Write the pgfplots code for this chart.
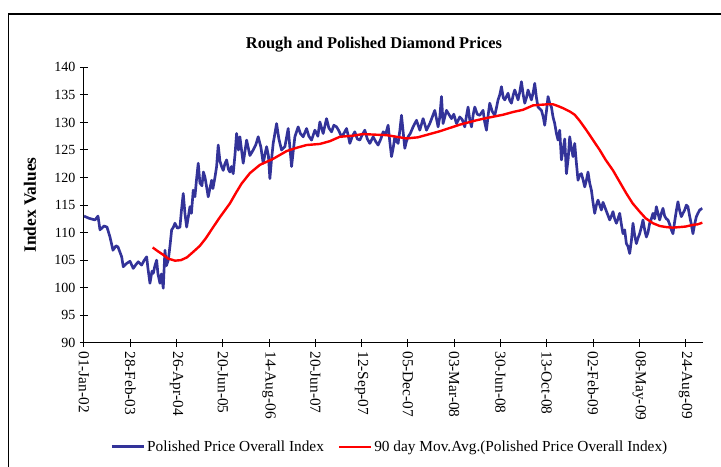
\documentclass[border=0pt]{standalone}
\usepackage{fontspec}
\setmainfont{Liberation Serif}
\usepackage{pgfplots}
\usepackage{pgfplotstable}
\pgfplotsset{compat=1.18}
\definecolor{idxblue}{RGB}{51,51,153}

\pgfplotstableread{
pos v
84 113.0
89 112.6
95 112.3
98 113.0
100 110.5
104 111.2
107 111.0
110 109.2
113 106.8
116 107.6
118 107.4
121.7 105.6
123.3 103.8
126.7 104.4
130 104.8
133.3 103.5
136 104.2
138.3 104.7
141.7 104.1
144 104.9
146.7 105.6
148 103.5
150 100.8
152 103.0
153.3 102.6
155 104.0
156.7 105.0
158 102.5
160 100.8
161.5 102.5
163.3 99.9
165 106.8
166.5 104.0
168.3 105.0
170 107.5
171.7 110.5
173.5 111.0
175 111.7
177.5 110.8
180 111.0
181.5 114.0
183.3 117.1
185 113.5
186.7 111.0
188.5 113.0
190 114.7
191.5 113.5
193.3 117.7
195 116.5
196.5 119.5
198.3 122.6
200 119.0
202 118.5
203.5 121.0
205 120.1
206.5 118.5
208.3 116.5
210 118.0
211.7 119.5
213 118.0
215 120.0
216.7 122.0
218.3 125.9
220 123.0
221.7 122.0
223.3 121.3
225 122.5
226.7 123.2
228.5 121.5
230 121.0
231.5 122.0
233.3 120.7
235 124.0
236.7 128.0
238.5 125.0
240 127.4
243.3 122.6
246.7 126.8
250 124.0
253.3 125.0
256 126.0
258.3 127.4
261 125.5
263.3 122.6
266.7 125.6
268.5 124.0
270 119.8
271.5 123.0
273.3 126.2
276.7 129.8
279 127.0
281.7 125.0
285 125.6
288.3 128.9
290 125.5
291.7 122.0
293.5 125.0
295 127.4
298.3 129.2
300.5 128.0
303.3 127.4
306.7 128.9
309 127.5
311.7 126.8
315 128.6
318 127.5
320 130.1
323.3 128.0
326.7 130.7
329 129.0
331.7 128.3
334 129.5
336.7 129.2
339 128.5
341.7 127.4
344 128.0
346.7 128.9
348.5 127.5
350 126.2
352.5 127.5
355 128.3
357.5 127.0
360 126.8
362.5 127.8
365 128.6
367.5 127.0
370 126.2
373.3 127.4
376 126.5
378.3 125.9
381 127.0
383.3 128.3
386 128.0
388.3 129.5
390 126.5
391.7 123.8
393.5 125.5
395 127.4
397 126.5
398.3 126.2
400 128.5
401.7 131.3
403.5 128.0
405 125.3
406.5 126.5
408.3 127.4
410.5 128.0
413.3 129.2
416.7 130.4
420 128.6
423.3 130.7
426.7 128.6
430 129.8
432.5 131.0
435 132.2
438.3 129.2
440 131.0
441.7 134.7
443.3 129.8
446.7 132.2
449 131.5
451.7 130.7
454 131.5
456.7 129.8
460 131.0
462.5 130.5
465 129.2
466.5 131.0
468.3 132.8
470 130.5
471.7 129.2
473.5 131.5
475 132.8
477.5 131.5
480 131.3
483.3 132.2
485 130.0
486.7 128.6
488.5 131.5
490 133.5
492.5 132.0
495 131.3
496.5 132.5
498.3 134.1
500 135.0
501.7 136.5
503.5 134.5
505 134.1
508.3 135.3
510 134.0
511.7 133.5
513.5 135.0
515 135.9
518.3 134.1
520 135.5
521.7 137.4
523.5 135.0
525 133.5
526.7 134.5
528.3 135.9
531.7 134.1
533.5 135.5
535 137.1
536.7 134.5
538.3 132.8
541.7 132.2
543.5 131.0
545 129.5
546.7 132.0
548.3 134.7
550 133.5
551.7 132.8
553.3 131.0
555 129.8
556.7 128.0
558.3 126.8
560 128.6
561.7 123.2
563.3 125.0
565 127.0
566.7 120.7
568.5 123.5
570 127.4
571.5 125.5
573.3 123.8
575 126.2
576.5 123.0
578.3 119.5
580 120.5
581.7 120.7
583.5 119.5
585 118.3
586.7 119.5
588.3 121.0
590 119.0
591.7 117.7
593.3 115.5
595 113.5
596.7 115.0
598.3 115.9
600 115.0
601.7 114.1
603.3 115.5
605 114.7
607.5 113.5
610 112.3
611.7 113.0
613.3 113.8
615 112.5
616.7 111.7
618.3 112.5
620 113.5
621.7 111.5
623.3 109.8
625 110.5
626.7 108.0
628.3 107.5
630 106.2
631.7 108.5
633.3 111.7
635 109.5
636.7 108.0
638.3 109.0
640 109.8
641.7 111.0
643.3 112.3
645 110.5
646.7 109.2
648.3 110.0
650 111.7
651.7 112.5
653.3 113.5
655 112.5
656.7 114.7
658.3 113.5
660 112.3
661.7 113.5
663.3 114.4
665 113.0
666.7 112.5
668.3 112.3
670 111.5
671.7 110.5
673.3 109.8
675 112.0
676.7 114.0
678.3 115.6
680 114.0
681.7 112.9
683.3 113.5
685 114.1
686.7 115.0
688.3 114.7
690 113.0
691.7 111.5
693.3 109.8
695 111.5
696.7 112.9
698.3 113.5
700 114.1
702.7 114.4
}\polished

\pgfplotstableread{
pos v
152.7 107.3
158 106.6
163 106.0
168 105.3
175 104.9
181 105.0
187 105.5
193.3 106.5
200 107.6
206 109.0
213.3 111.0
220 112.8
230 115.3
236 117.2
241.7 118.9
250 120.8
260 122.3
273.3 123.4
286.7 124.8
296.7 125.4
306.7 125.9
320 126.1
330 126.6
340 127.4
353.3 127.6
363.3 127.9
373.3 127.8
386.7 127.7
396.7 127.4
406.7 127.1
418 127.3
430 127.9
440 128.4
450 129.0
460 129.6
476.7 130.4
486.7 130.8
503.3 131.4
513.3 131.9
523.3 132.3
533.3 133.1
540 133.2
548 133.3
553.3 133.3
558 133.0
563.3 132.6
570 132.0
575 131.4
580 130.3
586.7 128.6
593 126.9
600 125.0
606 123.2
613.3 121.3
620 119.2
626.7 117.1
633 115.3
640 113.8
646 112.6
653.3 111.7
660 111.2
666.7 111.0
673 110.9
680 111.0
686 111.1
693.3 111.4
698 111.5
702.7 111.8
}\movavg

\begin{document}
\begin{tikzpicture}
\useasboundingbox (0,0) rectangle (540.75pt,350.25pt);
\draw[black, line width=1pt] (6.5pt,0) -- (6.5pt,339.75pt) -- (540.75pt,339.75pt);
\node[font=\bfseries\fontsize{12.3}{14}\selectfont] at (280.5pt,316.5pt) {Rough and Polished Diamond Prices};
\begin{axis}[
  scale only axis,
  width=464pt, height=206.5pt,
  at={(63pt,93.2pt)}, anchor=south west,
  xmin=0, xmax=13.37, ymin=90, ymax=140,
  ytick={90,95,...,140},
  xtick={0,...,13},
  xticklabels={01-Jan-02,28-Feb-03,26-Apr-04,20-Jun-05,14-Aug-06,20-Jun-07,12-Sep-07,05-Dec-07,03-Mar-08,30-Jun-08,13-Oct-08,02-Feb-09,08-May-09,24-Aug-09},
  axis x line*=bottom, axis y line*=left,
  axis line style={black, line width=0.75pt},
  tick align=center, major tick length=6pt,
  tick style={black, line width=0.75pt},
  /pgf/number format/assume math mode=true,
  yticklabel style={font=\fontsize{10.5}{12}\selectfont},
  xticklabel style={font=\fontsize{11.5}{13}\selectfont, rotate=-90, anchor=west},
  ylabel={Index Values},
  ylabel style={font=\bfseries\fontsize{13}{15}\selectfont, at={(axis description cs:-0.0873,0.5)}, anchor=center},
  legend columns=2,
  legend style={draw=none, fill=none, font=\fontsize{11.5}{13}\selectfont,
    at={(axis description cs:0.036,-0.378)}, anchor=west,
    nodes={inner sep=1.5pt},
    /tikz/every even column/.append style={column sep=9pt}},
  legend image code/.code={\draw[#1] (0pt,0pt) -- (24pt,0pt);},
]
\addplot[idxblue, line width=2pt, line join=round] table[x expr=(\thisrow{pos}-84)/46.3, y=v] {\polished};
\addlegendentry{Polished Price Overall Index}
\addplot[red, line width=1.8pt, line join=round] table[x expr=(\thisrow{pos}-84)/46.3, y=v] {\movavg};
\addlegendentry{90 day Mov.Avg.(Polished Price Overall Index)}
\end{axis}
\end{tikzpicture}
\end{document}
